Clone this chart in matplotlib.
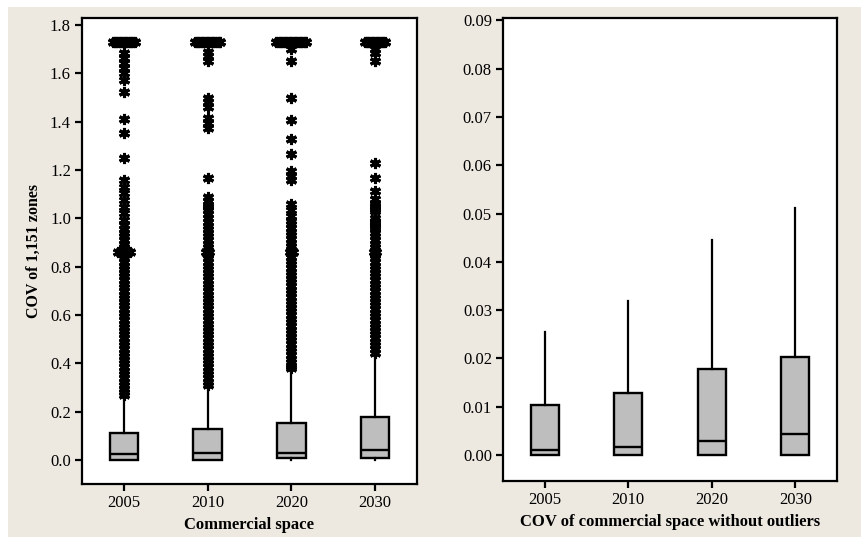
import numpy as np
import matplotlib
matplotlib.use("Agg")
import matplotlib.pyplot as plt
from matplotlib.patches import Rectangle

plt.rcParams["font.family"] = ["Liberation Serif", "DejaVu Serif"]

years = ["2005", "2010", "2020", "2030"]

# left panel: box statistics of COV (all zones)
q1_all = [0.0, 0.0, 0.008, 0.008]
med_all = [0.025, 0.030, 0.030, 0.040]
q3_all = [0.110, 0.130, 0.155, 0.180]
whislo_all = [0.0, 0.0, 0.0, 0.0]
whishi_all = [0.262, 0.300, 0.372, 0.427]

# outliers (tied values listed separately)
out_2005 = [1.683, 1.662, 1.641, 1.621, 1.600, 1.572, 1.524, 1.410, 1.352, 1.248,
            1.159, 1.131, 1.103, 1.076, 1.048, 1.021, 0.995, 0.972, 0.955, 0.94,
            0.925, 0.91, 0.895, 0.88, 0.865, 0.85, 0.835, 0.82, 0.805, 0.79,
            0.775, 0.76, 0.745, 0.73, 0.715, 0.70, 0.685, 0.67, 0.655, 0.64,
            0.625, 0.61, 0.595, 0.58, 0.565, 0.55, 0.535, 0.52, 0.505, 0.49,
            0.475, 0.46, 0.445, 0.43, 0.415, 0.40, 0.385, 0.37, 0.355, 0.34,
            0.325, 0.31, 0.295, 0.28, 0.27]
out_2010 = [1.69, 1.67, 1.65, 1.50, 1.48, 1.46, 1.415, 1.395, 1.375, 1.165,
            1.09, 1.07, 1.055, 1.045, 1.035, 1.02, 1.0, 0.985, 0.97, 0.955,
            0.94, 0.925, 0.91, 0.895, 0.88, 0.865, 0.85, 0.835, 0.82, 0.805,
            0.79, 0.775, 0.76, 0.745, 0.73, 0.715, 0.70, 0.685, 0.67, 0.655,
            0.64, 0.625, 0.61, 0.595, 0.58, 0.565, 0.55, 0.535, 0.52, 0.505,
            0.49, 0.475, 0.46, 0.445, 0.43, 0.415, 0.40, 0.385, 0.37, 0.355,
            0.34, 0.325, 0.31]
out_2020 = [1.70, 1.65, 1.50, 1.405, 1.33, 1.265, 1.195, 1.175, 1.16, 1.06,
            1.035, 1.01, 0.99, 0.975, 0.96, 0.945, 0.93, 0.915, 0.90, 0.885,
            0.87, 0.855, 0.84, 0.825, 0.81, 0.795, 0.78, 0.765, 0.75, 0.735,
            0.72, 0.705, 0.69, 0.675, 0.66, 0.645, 0.63, 0.615, 0.60, 0.585,
            0.57, 0.555, 0.54, 0.525, 0.51, 0.495, 0.48, 0.465, 0.45, 0.435,
            0.42, 0.405, 0.39, 0.38]
out_2030 = [1.70, 1.685, 1.65, 1.228, 1.165, 1.115, 1.08, 1.06, 1.05, 1.04,
            1.03, 1.0, 0.99, 0.98, 0.97, 0.96, 0.94, 0.925, 0.91, 0.895,
            0.88, 0.865, 0.85, 0.835, 0.82, 0.805, 0.79, 0.775, 0.76, 0.745,
            0.73, 0.715, 0.70, 0.685, 0.67, 0.655, 0.64, 0.625, 0.61, 0.595,
            0.58, 0.565, 0.55, 0.535, 0.52, 0.505, 0.49, 0.475, 0.46, 0.445]
outliers_all = [out_2005, out_2010, out_2020, out_2030]

cap_value = 1.73
cap_ties = [14, 16, 19, 13]
mid_value = 0.862
mid_ties = [8, 3, 3, 2]

# right panel: without outliers
q1_trim = [0.0, 0.0, 0.0, 0.0]
med_trim = [0.00104, 0.00166, 0.0029, 0.0043]
q3_trim = [0.01035, 0.0129, 0.0178, 0.0203]
whislo_trim = [0.0, 0.0, 0.0, 0.0]
whishi_trim = [0.0255, 0.0319, 0.0445, 0.0511]

bg = "#ede9e1"
box_face = "#bebebe"

fig = plt.figure(figsize=(8.62, 5.37), dpi=100)
fig.patch.set_facecolor("white")
fig.patches.append(Rectangle((8 / 862, 0), 1, 1 - 7 / 537, transform=fig.transFigure,
                             facecolor=bg, edgecolor="none", zorder=-10))

ax1 = fig.add_axes([82 / 862, 1 - 484 / 537, 335 / 862, 466 / 537])
ax2 = fig.add_axes([503 / 862, 1 - 481 / 537, 334 / 862, 463 / 537])


def draw_boxes(ax, q1, med, q3, lo, hi):
    stats = []
    for i in range(len(years)):
        stats.append(dict(q1=q1[i], med=med[i], q3=q3[i], whislo=lo[i],
                          whishi=hi[i], fliers=[]))
    ax.bxp(stats, positions=range(1, len(years) + 1), widths=0.34,
           patch_artist=True, showcaps=False, showfliers=False,
           boxprops=dict(facecolor=box_face, edgecolor="black", linewidth=1.7),
           medianprops=dict(color="black", linewidth=1.7),
           whiskerprops=dict(color="black", linewidth=1.6))


def style_axes(ax):
    for s in ax.spines.values():
        s.set_linewidth(1.6)
        s.set_color("black")
    ax.set_facecolor("white")
    ax.tick_params(direction="out", length=5, width=1.6, labelsize=12, pad=3)
    ax.set_xlim(0.5, 4.5)
    ax.set_xticks(range(1, 5))
    ax.set_xticklabels(years)


draw_boxes(ax1, q1_all, med_all, q3_all, whislo_all, whishi_all)
star = dict(marker=(6, 2, 0), markersize=8, markeredgewidth=2.2, color="black",
            linestyle="none", zorder=3)
step = 0.02
for i, vals in enumerate(outliers_all):
    pos = i + 1
    ax1.plot([pos] * len(vals), vals, **star)
    n = cap_ties[i]
    xs = pos + (np.arange(n) - (n - 1) / 2) * step
    ax1.plot(xs, [cap_value] * n, **star)
    n = mid_ties[i]
    xs = pos + (np.arange(n) - (n - 1) / 2) * step
    ax1.plot(xs, [mid_value] * n, **star)

style_axes(ax1)
ax1.set_ylim(-0.099, 1.829)
ax1.set_yticks(np.arange(0, 1.81, 0.2))
ax1.set_yticklabels([f"{v:.1f}" for v in np.arange(0, 1.81, 0.2)])
ax1.set_xlabel("Commercial space", fontsize=12, fontweight="bold", labelpad=4)
ax1.set_ylabel("COV of 1,151 zones", fontsize=11.5, fontweight="bold", labelpad=6)

draw_boxes(ax2, q1_trim, med_trim, q3_trim, whislo_trim, whishi_trim)
style_axes(ax2)
ax2.set_ylim(-0.0054, 0.0905)
ax2.set_yticks(np.arange(0, 0.0901, 0.01))
ax2.set_yticklabels([f"{v:.2f}" for v in np.arange(0, 0.0901, 0.01)])
ax2.set_xlabel("COV of commercial space without outliers", fontsize=12,
               fontweight="bold", labelpad=4)

fig.savefig("out.png", dpi=100, facecolor=fig.get_facecolor())
